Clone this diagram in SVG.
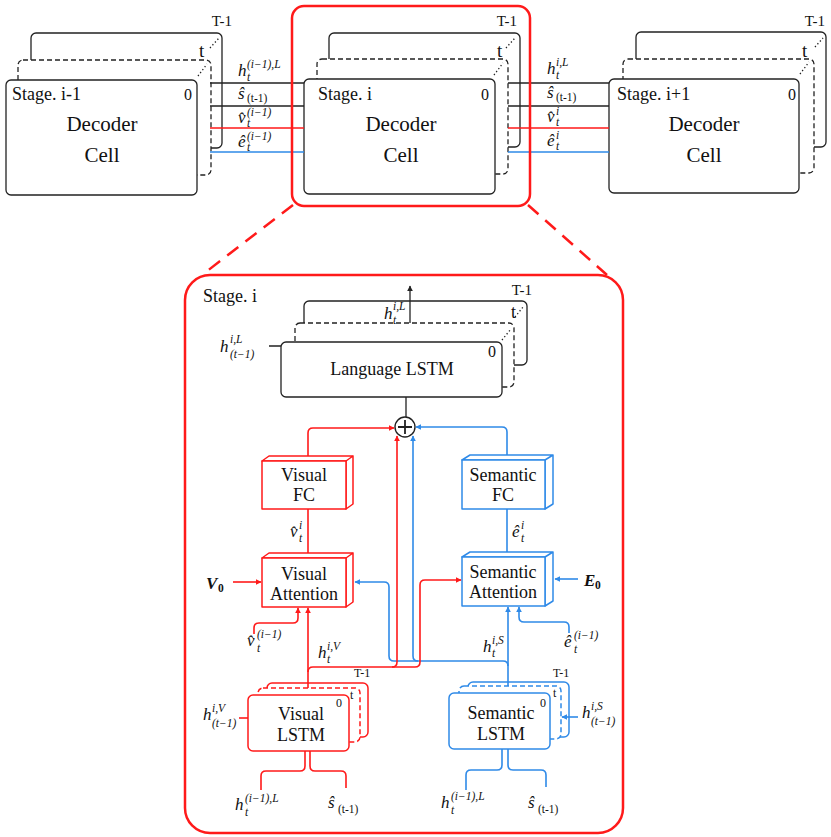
<svg xmlns="http://www.w3.org/2000/svg" width="831" height="837" viewBox="0 0 831 837">
<defs>
<style>
text{font-family:"Liberation Serif","Times New Roman",serif;fill:#111}
.bx{fill:#fff;stroke:#222;stroke-width:1.3}
.dash{stroke-dasharray:5 3}
.dot{fill:none;stroke:#222;stroke-width:1.3;stroke-dasharray:1.3 2.4}
.rb{fill:#fff;stroke:#ff1a1a;stroke-width:1.5;stroke-linejoin:round}
.bb{fill:#fff;stroke:#2f8ae8;stroke-width:1.5;stroke-linejoin:round}
.k{fill:none;stroke:#222;stroke-width:1.3}
.r{fill:none;stroke:#ff1a1a;stroke-width:1.6}
.b{fill:none;stroke:#2f8ae8;stroke-width:1.6}
.mi{font-style:italic;font-size:17px}
.ss{font-style:italic;font-size:11.5px}
.su{font-size:11.5px}
.st{font-size:18px}
.big{font-size:21px;text-anchor:middle}
.lb{font-size:18px;text-anchor:middle}
.sm{font-size:12px}
.bold{font-weight:bold}
</style>
<marker id="ak" viewBox="0 0 10 10" refX="9" refY="5" markerWidth="6" markerHeight="6" markerUnits="userSpaceOnUse" orient="auto"><path d="M0,0 L10,5 L0,10 z" fill="#222"/></marker>
<marker id="ar" viewBox="0 0 10 10" refX="9" refY="5" markerWidth="6" markerHeight="6" markerUnits="userSpaceOnUse" orient="auto"><path d="M0,0 L10,5 L0,10 z" fill="#ff1a1a"/></marker>
<marker id="ab" viewBox="0 0 10 10" refX="9" refY="5" markerWidth="6" markerHeight="6" markerUnits="userSpaceOnUse" orient="auto"><path d="M0,0 L10,5 L0,10 z" fill="#2f8ae8"/></marker>
</defs>

<g id="stage-prev">
<rect class="bx" x="31" y="33" width="191" height="115" rx="5"/>
<rect class="bx dash" x="18" y="60" width="193" height="115" rx="5"/>
<rect class="bx" x="6" y="80" width="191" height="115" rx="5"/>
<path class="dot" d="M210,48 L219,38 M198,76 L207,64"/>
<text x="232" y="26" font-size="15" text-anchor="end">T-1</text>
<text x="199" y="57" font-size="19">t</text>
<text class="st" x="12" y="100">Stage. i-1</text>
<text x="192" y="100" font-size="16" text-anchor="end">0</text>
<text class="big" x="102" y="131">Decoder</text>
<text class="big" x="102" y="162">Cell</text>
</g>

<g id="stage-cur">
<rect class="bx" x="329" y="33" width="191" height="114" rx="5"/>
<rect class="bx dash" x="317" y="59" width="191" height="115" rx="5"/>
<rect class="bx" x="304" y="79" width="191" height="115" rx="5"/>
<path class="dot" d="M506,48 L515,38 M494,75 L503,63"/>
<text x="517" y="26" font-size="15" text-anchor="end">T-1</text>
<text x="497" y="57" font-size="19">t</text>
<text class="st" x="318" y="100">Stage. i</text>
<text x="489" y="100" font-size="16" text-anchor="end">0</text>
<text class="big" x="401" y="131">Decoder</text>
<text class="big" x="401" y="162">Cell</text>
</g>

<g id="stage-next">
<rect class="bx" x="636" y="32" width="190" height="115" rx="5"/>
<rect class="bx dash" x="623" y="59" width="191" height="114" rx="5"/>
<rect class="bx" x="609" y="79" width="190" height="114" rx="5"/>
<path class="dot" d="M815,47 L823,38 M800,74 L809,62"/>
<text x="825" y="26" font-size="15" text-anchor="end">T-1</text>
<text x="802" y="57" font-size="19">t</text>
<text class="st" x="617" y="100">Stage. i+1</text>
<text x="796" y="100" font-size="16" text-anchor="end">0</text>
<text class="big" x="704" y="131">Decoder</text>
<text class="big" x="704" y="162">Cell</text>
</g>

<g id="lang-lstm">
<rect class="bx" x="304" y="301" width="223" height="64" rx="5"/>
<rect class="bx dash" x="295" y="323" width="219" height="64" rx="5"/>
<rect class="bx" x="281" y="342" width="221" height="55" rx="5"/>
<path class="dot" d="M515,317 L523,307 M502,340 L511,329"/>
<text x="532" y="295" font-size="15" text-anchor="end">T-1</text>
<text x="511" y="318" font-size="18">t</text>
<text x="496" y="357" font-size="16" text-anchor="end">0</text>
<text class="lb" x="392" y="375">Language LSTM</text>
</g>

<g id="plus">
<circle cx="405" cy="427" r="10" fill="#fff" stroke="#222" stroke-width="1.4"/>
<path d="M398,427 H412 M405,420 V434" stroke="#222" stroke-width="1.8"/>
</g>

<g id="visual-fc">
<path class="rb" d="M262,461 L269,456 L353,456 L346,461 Z M346,461 L353,456 L353,504 L346,509 Z"/>
<rect class="rb" x="262" y="461" width="84" height="48"/>
<text class="lb" x="304" y="481">Visual</text>
<text class="lb" x="304" y="501">FC</text>
</g>

<g id="visual-att">
<path class="rb" d="M262,558 L269,553 L353,553 L346,558 Z M346,558 L353,553 L353,602 L346,607 Z"/>
<rect class="rb" x="262" y="558" width="84" height="49"/>
<text class="lb" x="304" y="580">Visual</text>
<text class="lb" x="304" y="600">Attention</text>
</g>

<g id="sem-fc">
<path class="bb" d="M462,460 L470,455 L553,455 L545,460 Z M545,460 L553,455 L553,504 L545,509 Z"/>
<rect class="bb" x="462" y="460" width="83" height="49"/>
<text class="lb" x="503" y="481">Semantic</text>
<text class="lb" x="503" y="501">FC</text>
</g>

<g id="sem-att">
<path class="bb" d="M462,557 L470,552 L553,552 L545,557 Z M545,557 L553,552 L553,601 L545,606 Z"/>
<rect class="bb" x="462" y="557" width="83" height="49"/>
<text class="lb" x="503" y="578">Semantic</text>
<text class="lb" x="503" y="598">Attention</text>
</g>

<g id="visual-lstm">
<rect class="rb" x="267" y="683" width="101" height="54" rx="5"/>
<rect class="rb dash" x="258" y="688" width="102" height="54" rx="5"/>
<rect class="rb" x="248" y="695" width="101" height="56" rx="5"/>
<text class="sm" x="354" y="677">T-1</text>
<text class="sm" x="350" y="699">t</text>
<text class="sm" x="336" y="707">0</text>
<text class="lb" x="301" y="720">Visual</text>
<text class="lb" x="301" y="741">LSTM</text>
</g>

<g id="sem-lstm">
<rect class="bb" x="468" y="682" width="101" height="55" rx="5"/>
<rect class="bb dash" x="459" y="686" width="102" height="53" rx="5"/>
<rect class="bb" x="449" y="693" width="101" height="56" rx="5"/>
<text class="sm" x="553" y="677">T-1</text>
<text class="sm" x="553" y="697">t</text>
<text class="sm" x="540" y="707">0</text>
<text class="lb" x="501" y="719">Semantic</text>
<text class="lb" x="501" y="740">LSTM</text>
</g>

<g id="connectors">
<path class="k" d="M210,83 H304 M210,106 H304 M508,83 H609 M508,106 H609"/>
<path class="r" d="M210,128 H304 M508,128 H609"/>
<path class="b" d="M210,152 H304 M508,152 H609"/>
<path class="k" d="M269,346 H281 M406,397 V417"/>
<path class="k" d="M410,323 V286" marker-end="url(#ak)"/>
<path class="r" d="M308,456 V433 Q308,428 313,428 H394" marker-end="url(#ar)"/>
<path class="r" d="M308,509 V553"/>
<path class="r" d="M233,582 H261" marker-end="url(#ar)"/>
<path class="r" d="M254,634 V628 Q254,623 259,623 H293 Q298,623 298,618 V608" marker-end="url(#ar)"/>
<path class="r" d="M308,688 V608" marker-end="url(#ar)"/>
<path class="b" d="M507,455 V432 Q507,427 502,427 H416" marker-end="url(#ab)"/>
<path class="b" d="M507,509 V552"/>
<path class="b" d="M578,579 H555" marker-end="url(#ab)"/>
<path class="b" d="M569,633 V627 Q569,622 564,622 H524 Q519,622 519,617 V607" marker-end="url(#ab)"/>
<path class="b" d="M508,686 V607" marker-end="url(#ab)"/>
<path class="b" d="M508,666 Q508,661 503,661 H394 Q389,661 389,656 V587 Q389,582 384,582 H355" marker-end="url(#ab)"/>
<path class="b" d="M418,661 Q413,661 413,656 V436" marker-end="url(#ab)"/>
<path class="r" d="M308,672 Q308,667 313,667 H415 Q420,667 420,662 V585 Q420,580 425,580 H461" marker-end="url(#ar)"/>
<path class="r" d="M392,667 Q397,667 397,662 V436" marker-end="url(#ar)"/>
<path class="r" d="M239,718 H248"/>
<path class="r" d="M305,751 V766 Q305,771 300,771 H266 Q261,771 261,776 V790 M310,751 V766 Q310,771 315,771 H341 Q346,771 346,776 V788"/>
<path class="b" d="M578,717 H562" marker-end="url(#ab)"/>
<path class="b" d="M502,749 V765 Q502,770 497,770 H471 Q466,770 466,775 V790 M508,749 V765 Q508,770 513,770 H541 Q546,770 546,775 V787"/>
</g>

<g id="frames">
<rect x="292" y="6" width="238" height="200" rx="12" fill="none" stroke="#ff1a1a" stroke-width="2.5"/>
<path d="M293,205 L202,275 M528,205 L607,275" fill="none" stroke="#ff1a1a" stroke-width="2.5" stroke-dasharray="14 9"/>
<rect x="185" y="275" width="438" height="558" rx="25" fill="none" stroke="#ff1a1a" stroke-width="2.5"/>
<text class="st" x="203" y="302">Stage. i</text>
</g>

<g id="labels">
<text class="mi" x="238" y="76">h</text><text class="ss" x="247" y="68">(i−1),L</text><text class="ss" x="247" y="81">t</text>
<text class="mi" x="238" y="99">ŝ</text><text class="su" x="247" y="102">(t-1)</text>
<text class="mi" x="238" y="123">v̂</text><text class="ss" x="247" y="116">(i−1)</text><text class="ss" x="247" y="127">t</text>
<text class="mi" x="238" y="147">ê</text><text class="ss" x="247" y="140">(i−1)</text><text class="ss" x="247" y="151">t</text>

<text class="mi" x="547" y="74">h</text><text class="ss" x="556" y="66">i,L</text><text class="ss" x="556" y="79">t</text>
<text class="mi" x="547" y="98">ŝ</text><text class="su" x="556" y="101">(t-1)</text>
<text class="mi" x="547" y="122">v̂</text><text class="ss" x="556" y="115">i</text><text class="ss" x="556" y="126">t</text>
<text class="mi" x="547" y="146">ê</text><text class="ss" x="556" y="139">i</text><text class="ss" x="556" y="150">t</text>

<text class="mi" x="220" y="352">h</text><text class="ss" x="230" y="343">i,L</text><text class="ss" x="230" y="358">(t−1)</text>
<text class="mi" x="384" y="319">h</text><text class="ss" x="393" y="310">i,L</text><text class="ss" x="393" y="324">t</text>

<text class="mi" x="290" y="537">v̂</text><text class="ss" x="299" y="529">i</text><text class="ss" x="299" y="542">t</text>
<text class="mi" x="512" y="537">ê</text><text class="ss" x="521" y="529">i</text><text class="ss" x="521" y="542">t</text>
<text class="mi bold" x="206" y="589">V</text><text class="su bold" x="218" y="592">0</text>
<text class="mi bold" x="584" y="586">E</text><text class="su bold" x="595" y="589">0</text>
<text class="mi" x="247" y="646">v̂</text><text class="ss" x="257" y="638">(i−1)</text><text class="ss" x="257" y="652">t</text>
<text class="mi" x="564" y="647">ê</text><text class="ss" x="574" y="639">(i−1)</text><text class="ss" x="574" y="653">t</text>
<text class="mi" x="318" y="658">h</text><text class="ss" x="327" y="650">i,V</text><text class="ss" x="327" y="663">t</text>
<text class="mi" x="483" y="652">h</text><text class="ss" x="492" y="644">i,S</text><text class="ss" x="492" y="657">t</text>
<text class="mi" x="203" y="720">h</text><text class="ss" x="212" y="712">i,V</text><text class="ss" x="212" y="727">(t−1)</text>
<text class="mi" x="582" y="718">h</text><text class="ss" x="591" y="710">i,S</text><text class="ss" x="591" y="725">(t−1)</text>
<text class="mi" x="235" y="810">h</text><text class="ss" x="245" y="802">(i−1),L</text><text class="ss" x="245" y="816">t</text>
<text class="mi" x="328" y="808">ŝ</text><text class="su" x="338" y="813">(t-1)</text>
<text class="mi" x="441" y="808">h</text><text class="ss" x="451" y="800">(i−1),L</text><text class="ss" x="451" y="814">t</text>
<text class="mi" x="528" y="808">ŝ</text><text class="su" x="538" y="813">(t-1)</text>
</g>
</svg>
